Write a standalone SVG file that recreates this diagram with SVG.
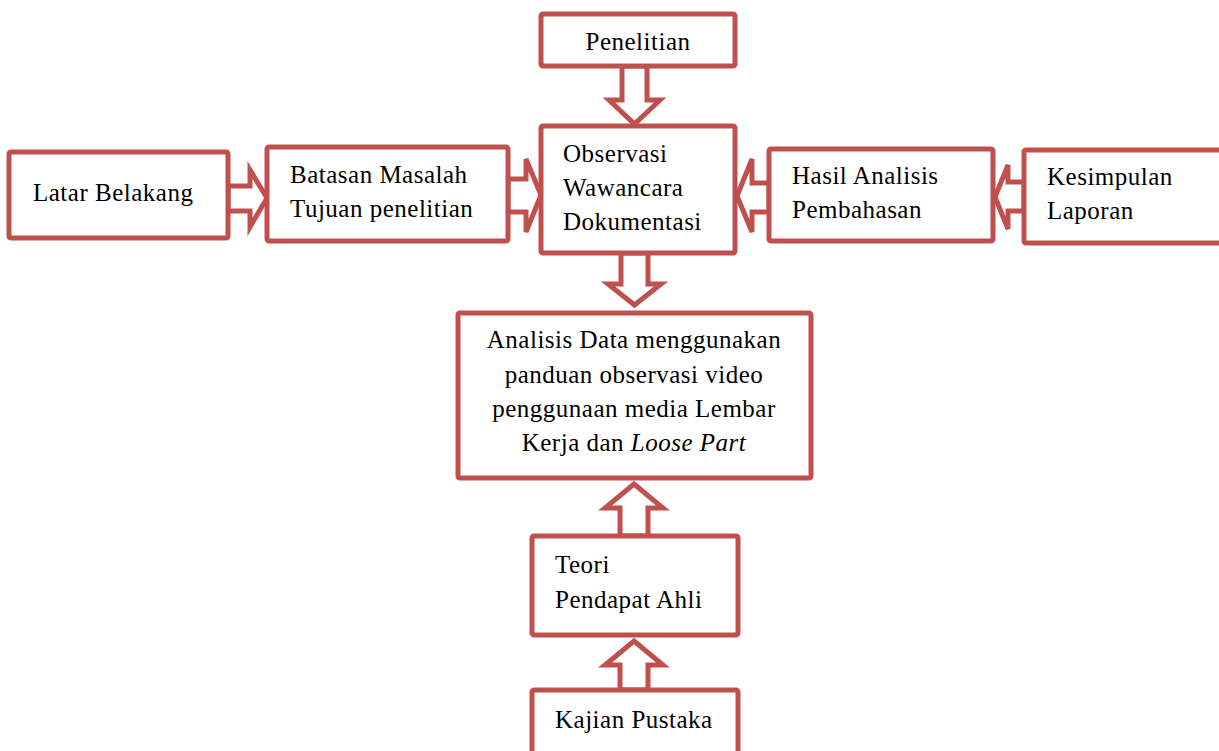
<svg xmlns="http://www.w3.org/2000/svg" width="1219" height="751" viewBox="0 0 1219 751">
<style>
.box{fill:#fff;stroke:#C0504D;stroke-width:5}
.arr{fill:#fff;stroke:#C0504D;stroke-width:5;stroke-linejoin:miter}
text{font-family:"Liberation Serif","Times New Roman",serif;font-size:25px;fill:#000;letter-spacing:0.5px}
.c{text-anchor:middle}
</style>
<rect width="1219" height="751" fill="#fff"/>
<g id="connectors">
<polygon class="arr" points="622,66 647,66 647,100 660,100 634.5,124 609,100 622,100"/>
<polygon class="arr" points="621,253 648,253 648,284 661,284 634.5,305 608,284 621,284"/>
<polygon class="arr" points="228,186 250,186 250,170 267,198 250,227 250,211 228,211"/>
<polygon class="arr" points="508,179 526,179 526,159 541,195 526,232 526,212 508,212"/>
<polygon class="arr" points="769,183 752,183 752,159 737,196 752,232 752,212 769,212"/>
<polygon class="arr" points="1024,182 1008,182 1008,165 995,197 1008,229 1008,211 1024,211"/>
<polygon class="arr" points="620,536 648,536 648,508 663,508 634,484 605,508 620,508"/>
<polygon class="arr" points="620,690 648,690 648,665 663,665 634,641 605,665 620,665"/>
</g>
<g id="penelitian">
<rect class="box" x="541" y="14" width="194" height="52" rx="2"/>
<text class="c" x="638" y="50">Penelitian</text>
</g>
<g id="observasi">
<rect class="box" x="541" y="126" width="194" height="127" rx="2"/>
<text x="563" y="162">Observasi</text>
<text x="563" y="196">Wawancara</text>
<text x="563" y="230">Dokumentasi</text>
</g>
<g id="latar">
<rect class="box" x="9" y="152" width="219" height="86" rx="2"/>
<text x="33" y="201">Latar Belakang</text>
</g>
<g id="batasan">
<rect class="box" x="267" y="147" width="241" height="94" rx="2"/>
<text x="290" y="183">Batasan Masalah</text>
<text x="290" y="217">Tujuan penelitian</text>
</g>
<g id="hasil">
<rect class="box" x="769" y="149" width="224" height="92" rx="2"/>
<text x="792" y="184">Hasil Analisis</text>
<text x="792" y="218">Pembahasan</text>
</g>
<g id="kesimpulan">
<rect class="box" x="1024" y="150" width="205" height="93" rx="2"/>
<text x="1047" y="185">Kesimpulan</text>
<text x="1047" y="219">Laporan</text>
</g>
<g id="analisis">
<rect class="box" x="458" y="313" width="353" height="165" rx="2"/>
<text class="c" x="634" y="348">Analisis Data menggunakan</text>
<text class="c" x="634" y="383">panduan observasi video</text>
<text class="c" x="634" y="417">penggunaan media Lembar</text>
<text class="c" x="634" y="451">Kerja dan <tspan font-style="italic">Loose Part</tspan></text>
</g>
<g id="teori">
<rect class="box" x="532" y="536" width="206" height="99" rx="2"/>
<text x="555" y="573">Teori</text>
<text x="555" y="608">Pendapat Ahli</text>
</g>
<g id="kajian">
<rect class="box" x="532" y="690" width="206" height="80" rx="2"/>
<text x="555" y="728">Kajian Pustaka</text>
</g>
</svg>
